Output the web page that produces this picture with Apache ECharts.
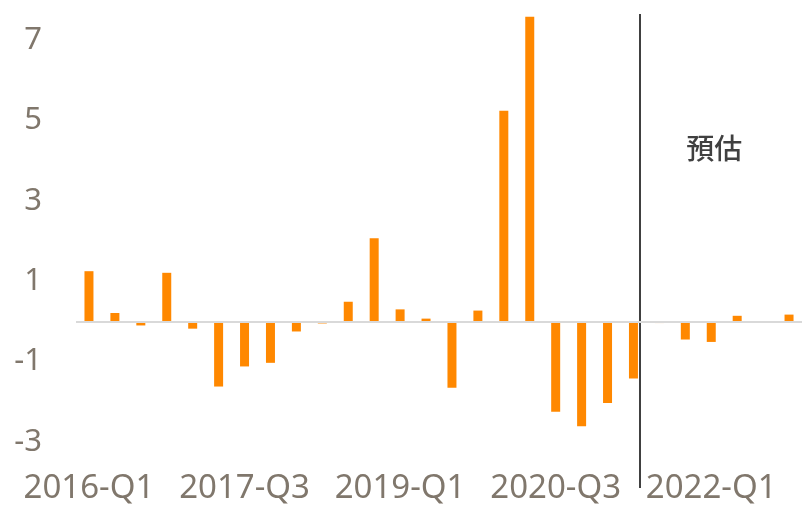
<!DOCTYPE html>
<html>
<head>
<meta charset="utf-8">
<script src="https://cdn.jsdelivr.net/npm/echarts@6/dist/echarts.min.js"></script>
<style>
  html, body { margin: 0; padding: 0; background: #fff; }
  #chart { width: 802px; height: 505px; }
</style>
</head>
<body>
<div id="chart"></div>
<script>
// 季度
var quarters = [
  "2016-Q1", "2016-Q2", "2016-Q3", "2016-Q4",
  "2017-Q1", "2017-Q2", "2017-Q3", "2017-Q4",
  "2018-Q1", "2018-Q2", "2018-Q3", "2018-Q4",
  "2019-Q1", "2019-Q2", "2019-Q3", "2019-Q4",
  "2020-Q1", "2020-Q2", "2020-Q3", "2020-Q4",
  "2021-Q1", "2021-Q2", "2021-Q3", "2021-Q4",
  "2022-Q1", "2022-Q2", "2022-Q3", "2022-Q4"
];
// 数值
var values = [
  1.25, 0.21, -0.10, 1.21,
  -0.18, -1.62, -1.12, -1.03,
  -0.25, -0.05, 0.49, 2.07,
  0.30, 0.07, -1.65, 0.27,
  5.24, 7.58, -2.25, -2.61,
  -2.03, -1.42, -0.04, -0.45,
  -0.51, 0.14, 0.01, 0.17
];
var forecastStart = "2021-Q3"; // 預估 从这里开始
var forecastText = "預估";

var labelColor = "#80776c";
var labelFont = "Noto Sans";

var chart = echarts.init(document.getElementById("chart"));
chart.setOption({
  animation: false,
  grid: { left: 76, width: 729, top: 16, bottom: 62 },
  xAxis: {
    type: "category",
    data: quarters,
    axisLine: { show: false },
    axisTick: { show: false },
    axisLabel: {
      interval: 5,
      margin: 30,
      color: labelColor,
      fontSize: 33,
      fontFamily: labelFont
    }
  },
  yAxis: {
    type: "value",
    min: -3,
    max: 7.6,
    interval: 2,
    splitLine: { show: false },
    axisLine: { show: false },
    axisTick: { show: false },
    axisLabel: {
      showMaxLabel: false,
      margin: 34,
      color: labelColor,
      fontSize: 31,
      fontFamily: labelFont
    }
  },
  series: [{
    type: "bar",
    data: values,
    barWidth: 9,
    itemStyle: { color: "#ff8800" },
    markLine: {
      silent: true,
      symbol: "none",
      label: { show: false },
      lineStyle: { color: "#d9d9d9", width: 2, type: "solid" },
      data: [{ yAxis: 0 }]
    }
  }]
});

// 分隔线 + 預估 文字
var i = quarters.indexOf(forecastStart);
var x0 = chart.convertToPixel({ xAxisIndex: 0 }, quarters[i - 1]);
var x1 = chart.convertToPixel({ xAxisIndex: 0 }, quarters[i]);
var sepX = Math.round(x0 + (x1 - x0) * 0.27);
var textX = chart.convertToPixel({ xAxisIndex: 0 }, quarters[i + 2]);
var textY = chart.convertToPixel({ yAxisIndex: 0 }, 4.3);
chart.setOption({
  graphic: [
    {
      type: "line",
      shape: { x1: sepX, y1: 14, x2: sepX, y2: 488 },
      style: { stroke: "#404040", lineWidth: 2 }
    },
    {
      type: "text",
      x: textX + 3,
      y: textY,
      style: {
        text: forecastText,
        fill: "#404040",
        font: "500 28px 'Noto Sans CJK TC'",
        align: "center",
        verticalAlign: "middle"
      }
    }
  ]
});
</script>
</body>
</html>
